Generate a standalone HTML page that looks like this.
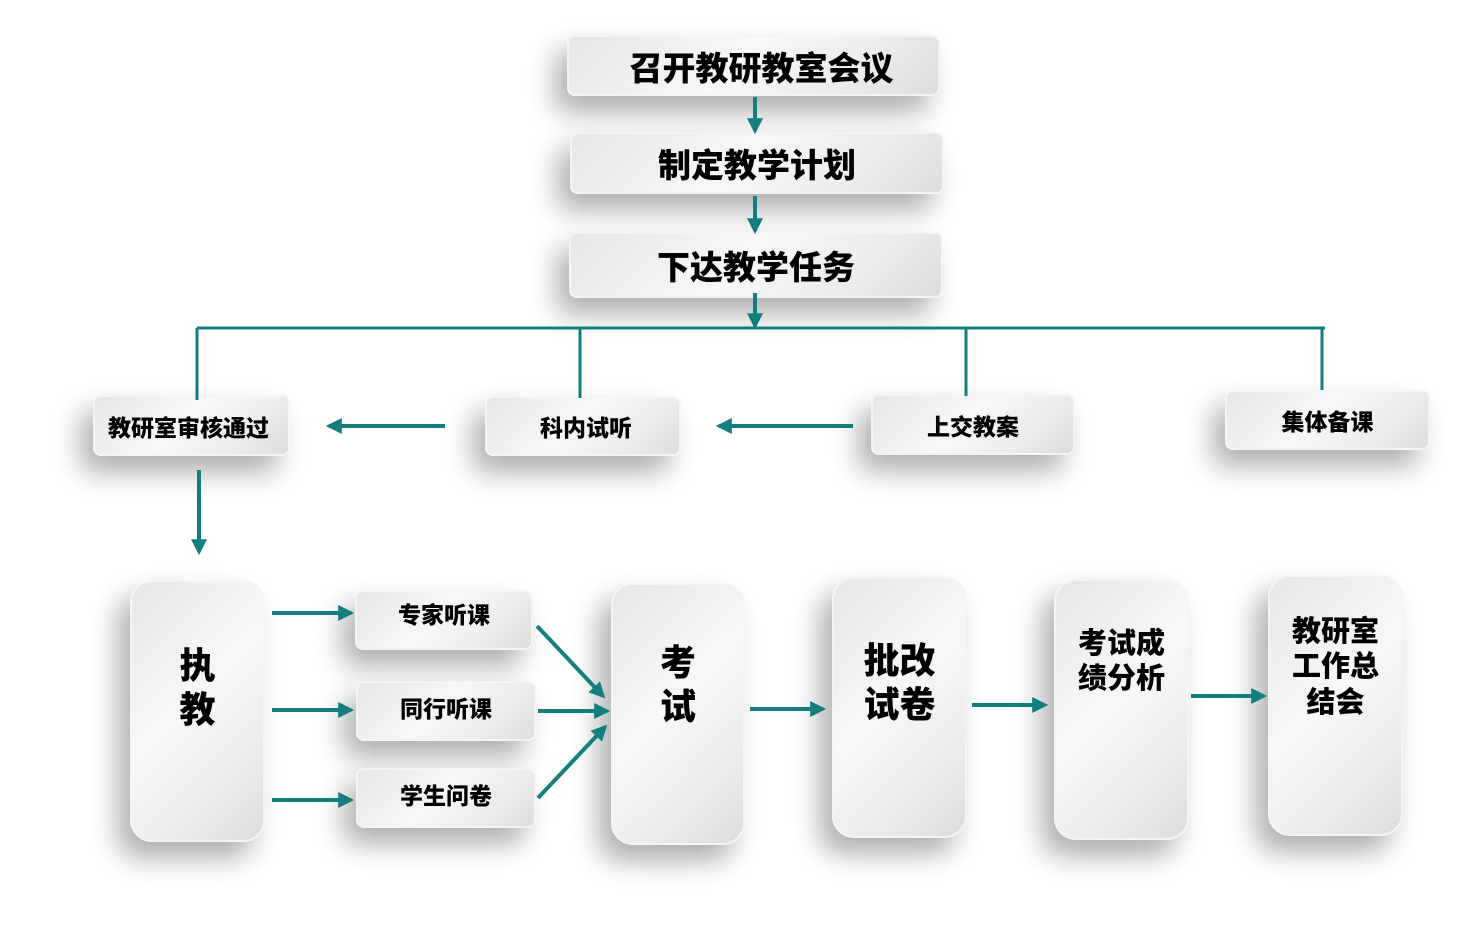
<!DOCTYPE html>
<html><head><meta charset="utf-8"><style>
body{margin:0;width:1468px;height:938px;background:#fff;position:relative;overflow:hidden;font-family:"Liberation Sans","Noto Sans CJK SC",sans-serif;}
.b{position:absolute;box-sizing:border-box;background:linear-gradient(135deg,#e6e6e6 0%,#f7f7f7 45%,#ececec 75%,#dcdcdc 100%);border:2px solid #f4f4f4;border-radius:8px;box-shadow:-12px 16px 28px rgba(0,0,0,.32);display:flex;align-items:center;justify-content:center;font-weight:900;color:#000;text-align:center;}
.t{border-radius:22px;align-items:flex-start;line-height:1.22;}
svg{position:absolute;left:0;top:0;}
</style></head><body>
<div class="b" style="left:567px;top:35px;width:373px;height:61px;font-size:33px;padding-left:16px">召开教研教室会议</div>
<div class="b" style="left:570px;top:132px;width:374px;height:62px;font-size:33px">制定教学计划</div>
<div class="b" style="left:569px;top:232px;width:374px;height:66px;font-size:33px">下达教学任务</div>
<div class="b" style="left:93px;top:395px;width:197px;height:61px;font-size:23px;padding-right:6px">教研室审核通过</div>
<div class="b" style="left:485px;top:396px;width:196px;height:60px;font-size:23px;padding-left:6px">科内试听</div>
<div class="b" style="left:871px;top:394px;width:204px;height:61px;font-size:23px">上交教案</div>
<div class="b" style="left:1225px;top:390px;width:205px;height:60px;font-size:23px">集体备课</div>
<div class="b" style="left:355px;top:590px;width:178px;height:60px;font-size:23px;padding-bottom:14px">专家听课</div>
<div class="b" style="left:356px;top:681px;width:180px;height:60px;font-size:23px;padding-bottom:8px">同行听课</div>
<div class="b" style="left:356px;top:768px;width:180px;height:60px;font-size:23px;padding-bottom:8px">学生问卷</div>
<div class="b t" style="left:130px;top:580px;width:135px;height:262px;font-size:36px;padding-top:62px">执<br>教</div>
<div class="b t" style="left:611px;top:583px;width:134px;height:262px;font-size:36px;padding-top:56px">考<br>试</div>
<div class="b t" style="left:832px;top:577px;width:135px;height:261px;font-size:36px;padding-top:60px">批改<br>试卷</div>
<div class="b t" style="left:1054px;top:579px;width:135px;height:261px;font-size:29px;padding-top:46px">考试成<br>绩分析</div>
<div class="b t" style="left:1268px;top:575px;width:135px;height:261px;font-size:29px;padding-top:38px">教研室<br>工作总<br>结会</div>
<svg width="1468" height="938" viewBox="0 0 1468 938">
<defs><marker id="a" viewBox="0 0 10 10" refX="8" refY="5" markerWidth="4" markerHeight="4" orient="auto"><path d="M0,0L10,5L0,10z" fill="#137e7e"/></marker></defs>
<g stroke="#137e7e" stroke-width="4" fill="none" marker-end="url(#a)">
<line x1="755" y1="97" x2="755" y2="131"/>
<line x1="755" y1="196" x2="755" y2="231"/>
<line x1="755" y1="293" x2="755" y2="326"/>
<line x1="445" y1="426" x2="329" y2="426"/>
<line x1="853" y1="426" x2="719" y2="426"/>
<line x1="199" y1="470" x2="199" y2="552"/>
<line x1="272" y1="613" x2="351" y2="613"/>
<line x1="272" y1="710" x2="351" y2="710"/>
<line x1="272" y1="800" x2="351" y2="800"/>
<line x1="537" y1="626" x2="603" y2="696"/>
<line x1="538" y1="711" x2="607" y2="711"/>
<line x1="538" y1="798" x2="605" y2="727"/>
<line x1="750" y1="709" x2="823" y2="709"/>
<line x1="972" y1="705" x2="1045" y2="705"/>
<line x1="1191" y1="696" x2="1264" y2="696"/>
</g>
<g stroke="#137e7e" stroke-width="3" fill="none">
<line x1="197" y1="328" x2="1325" y2="328"/>
<line x1="197" y1="328" x2="197" y2="400"/>
<line x1="580" y1="328" x2="580" y2="398"/>
<line x1="966" y1="328" x2="966" y2="396"/>
<line x1="1322" y1="328" x2="1322" y2="390"/>
</g>
</svg>
</body></html>
